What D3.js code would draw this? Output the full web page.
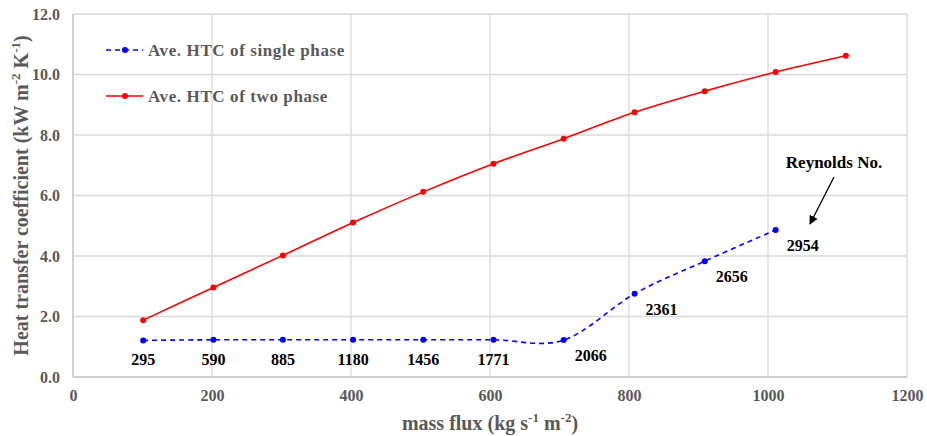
<!DOCTYPE html>
<html><head><meta charset="utf-8">
<script src="https://cdn.jsdelivr.net/npm/d3@7"></script>
<style>body{margin:0;background:#fff}</style>
</head><body><svg id="c" width="927" height="436" font-family="'Liberation Serif', 'Times New Roman', 'DejaVu Serif', serif"></svg>
<script>
const massFlux = [101, 202, 302, 403, 504, 605, 706, 808, 909, 1011, 1112];
const twoPhase = [1.88, 2.96, 4.02, 5.11, 6.12, 7.05, 7.88, 8.75, 9.45, 10.08, 10.62];
const singleMassFlux = [101, 202, 302, 403, 504, 605, 706, 808, 909, 1011];
const singlePhase = [1.21, 1.23, 1.23, 1.23, 1.23, 1.23, 1.22, 2.75, 3.83, 4.86];
const reynolds = ["295", "590", "885", "1180", "1456", "1771", "2066", "2361", "2656", "2954"];
const xTicks = [0, 200, 400, 600, 800, 1000, 1200];
const yTicks = [0, 2, 4, 6, 8, 10, 12];
const seriesNames = ["Ave. HTC of single phase", "Ave. HTC of two phase"];

const FONT = "'Liberation Serif', 'Times New Roman', 'DejaVu Serif', serif";
const svg = d3.select("#c");
const L = 73, R = 907, T = 14, B = 377;
const x = d3.scaleLinear().domain([0, 1200]).range([L, R]);
const y = d3.scaleLinear().domain([0, 12]).range([B, T]);

// grid
const g = svg.append("g");
g.selectAll(".gx").data(xTicks).join("line")
  .attr("x1", d => x(d)).attr("x2", d => x(d)).attr("y1", T).attr("y2", B)
  .attr("stroke", "#d9d9d9").attr("stroke-width", 1.3);
g.selectAll(".gy").data(yTicks).join("line")
  .attr("x1", L).attr("x2", R).attr("y1", d => y(d)).attr("y2", d => y(d))
  .attr("stroke", "#d9d9d9").attr("stroke-width", 1.3);
g.append("line").attr("x1", L).attr("x2", R).attr("y1", B).attr("y2", B).attr("stroke", "#c8c8c8").attr("stroke-width", 1.5);
g.append("line").attr("x1", L).attr("x2", L).attr("y1", T).attr("y2", B).attr("stroke", "#c8c8c8").attr("stroke-width", 1.5);

const xa = svg.append("g").attr("transform", `translate(0,${B})`)
  .call(d3.axisBottom(x).tickValues(xTicks).tickSize(0).tickPadding(13).tickFormat(d3.format("d")));
const ya = svg.append("g").attr("transform", `translate(${L},0)`)
  .call(d3.axisLeft(y).tickValues(yTicks).tickSize(0).tickPadding(13).tickFormat(d3.format(".1f")));
[xa, ya].forEach(a => {
  a.attr("font-family", FONT);
  a.select(".domain").remove();
  a.selectAll("text").attr("fill", "#595959").attr("font-size", 16).attr("font-weight", "bold")
    .attr("font-family", FONT);
});

svg.append("text").attr("x", 490).attr("y", 430).attr("text-anchor", "middle").attr("font-family", FONT)
  .attr("fill", "#595959").attr("font-size", 20).attr("font-weight", "bold")
  .html('mass flux (kg s<tspan dy="-8" font-size="13">-1</tspan><tspan dy="8"> m</tspan><tspan dy="-8" font-size="13">-2</tspan><tspan dy="8">)</tspan>');
svg.append("text").attr("transform", `translate(28,${(T + B) / 2}) rotate(-90)`).attr("text-anchor", "middle").attr("font-family", FONT)
  .attr("fill", "#595959").attr("font-size", 20).attr("font-weight", "bold")
  .html('Heat transfer coefficient (kW m<tspan dy="-8" font-size="13">-2</tspan><tspan dy="8"> K</tspan><tspan dy="-8" font-size="13">-1</tspan><tspan dy="8">)</tspan>');

const curve = d3.curveCardinal.tension(0);
const line = d3.line().x(d => x(d[0])).y(d => y(d[1])).curve(curve);
const redData = massFlux.map((m, i) => [m, twoPhase[i]]);
const blueData = singleMassFlux.map((m, i) => [m, singlePhase[i]]);

svg.append("path").datum(redData).attr("d", line).attr("fill", "none").attr("stroke", "#ff0000").attr("stroke-width", 1.6);
svg.append("path").datum(blueData).attr("d", line).attr("fill", "none").attr("stroke", "#0000ff").attr("stroke-width", 1.6).attr("stroke-dasharray", "5,4");
svg.selectAll(".rp").data(redData).join("circle").attr("cx", d => x(d[0])).attr("cy", d => y(d[1])).attr("r", 3).attr("fill", "#ff0000");
svg.selectAll(".bp").data(blueData).join("circle").attr("cx", d => x(d[0])).attr("cy", d => y(d[1])).attr("r", 3).attr("fill", "#0000ff");

svg.selectAll(".re").data(blueData).join("text").attr("font-family", FONT)
  .attr("x", (d, i) => i < 6 ? x(d[0]) : x(d[0]) + 27)
  .attr("y", (d, i) => i < 6 ? y(d[1]) + 25 : y(d[1]) + 21)
  .attr("text-anchor", "middle").attr("font-size", 16).attr("font-weight", "bold").attr("fill", "#000")
  .text((d, i) => reynolds[i]);

const legY = [50, 96];
const legCol = ["#0000ff", "#ff0000"];
legY.forEach((ly, i) => {
  svg.append("line").attr("x1", 106).attr("x2", 143).attr("y1", ly).attr("y2", ly)
    .attr("stroke", legCol[i]).attr("stroke-width", 1.6).attr("stroke-dasharray", i === 0 ? "5,4" : null);
  svg.append("circle").attr("cx", 125).attr("cy", ly).attr("r", 3).attr("fill", legCol[i]);
  svg.append("text").attr("x", 148).attr("y", ly + 6).attr("font-size", 17).attr("font-weight", "bold").attr("font-family", FONT)
    .attr("fill", "#595959").attr("letter-spacing", 0.6).text(seriesNames[i]);
});

svg.append("text").attr("x", 834).attr("y", 168).attr("text-anchor", "middle").attr("font-size", 17).attr("font-family", FONT)
  .attr("font-weight", "bold").attr("fill", "#000").text("Reynolds No.");
svg.append("defs").append("marker").attr("id", "ah").attr("viewBox", "0 0 10 10").attr("refX", 9).attr("refY", 5)
  .attr("markerWidth", 7).attr("markerHeight", 7).attr("orient", "auto")
  .append("path").attr("d", "M0,0L10,5L0,10z").attr("fill", "#000");
svg.append("line").attr("x1", 834).attr("y1", 177).attr("x2", 810).attr("y2", 224)
  .attr("stroke", "#000").attr("stroke-width", 1.3).attr("marker-end", "url(#ah)");
</script></body></html>
